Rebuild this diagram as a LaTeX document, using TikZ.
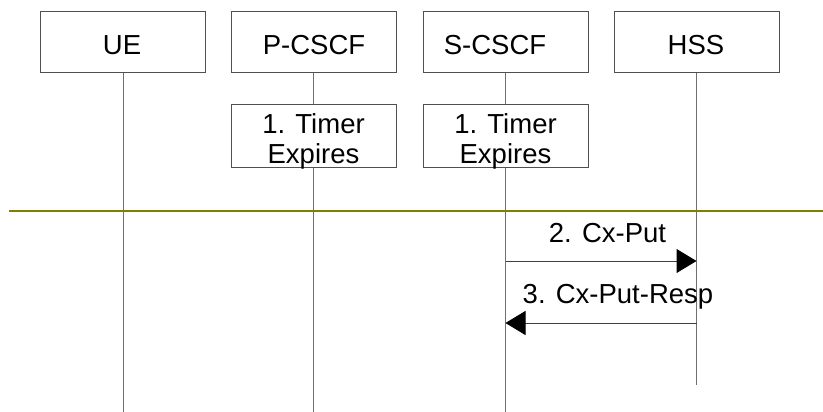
\documentclass[tikz,border=0pt]{standalone}
\usepackage{fontspec}
\setmainfont{Liberation Sans}
\usetikzlibrary{arrows.meta}
\definecolor{boxc}{HTML}{505050}
\definecolor{lifec}{HTML}{707070}
\definecolor{sepc}{HTML}{808000}
\begin{document}
\begin{tikzpicture}[x=1pt,y=-1pt,
  box/.style={draw=boxc, line width=1pt, fill=white, minimum width=165pt, minimum height=61pt, inner sep=0pt},
  tbox/.style={box, minimum height=62pt},
  txt/.style={font=\fontsize{27.5}{30}\selectfont, inner sep=0pt, align=center},
  life/.style={draw=lifec, line width=1pt},
  msg/.style={draw=black!75, line width=1pt, -{Triangle[length=20pt,width=24pt,color=black,fill=black]}},
  sepline/.style={draw=sepc, line width=2pt}]
\useasboundingbox (0,0) rectangle (823,412);
% lifeline ends
\coordinate (ueE) at (123,412);
\coordinate (pcE) at (313.5,412);
\coordinate (scE) at (505.5,412);
\coordinate (hsE) at (696.5,385);
% header boxes
\node[box] (ue) at (123,42.5) {};
\node[box] (pc) at (313.5,42.5) {};
\node[box] (sc) at (505.5,42.5) {};
\node[box] (hs) at (696.5,42.5) {};
% lifelines
\draw[life] (ue.south) -- (ueE);
\draw[life] (pc.south) -- (pcE);
\draw[life] (sc.south) -- (scE);
\draw[life] (hs.south) -- (hsE);
% header texts
\node[txt, anchor=base] (ueT) at (122,55) {UE};
\node[txt, anchor=base] (pcT) at (314,55) {P-CSCF};
\node[txt, anchor=base] (scT) at (495,55) {S-CSCF};
\node[txt, anchor=base] (hsT) at (696,55) {HSS};
% timer boxes
\node[tbox] (pt) at (313.5,136) {};
\node[tbox] (st) at (505.5,136) {};
\node[txt] (ptT) at ([yshift=-5pt]pt.center) {1. Timer\\Expires};
\node[txt] (stT) at ([yshift=-5pt]st.center) {1. Timer\\Expires};
% separator
\coordinate (sepL) at (9,211);
\coordinate (sepR) at (823,211);
\draw[sepline] (sepL) -- (sepR);
% messages
\coordinate (s2) at (505.5,261);
\coordinate (h2) at (696.5,261);
\coordinate (h3) at (696.5,323);
\coordinate (s3) at (505.5,323);
\draw[msg] (s2) -- (h2);
\draw[msg] (h3) -- (s3);
\node[txt, anchor=base] (m2) at (607.5,242) {2. Cx-Put};
\node[txt, anchor=base] (m3) at (618,303) {3. Cx-Put-Resp};
\end{tikzpicture}
\end{document}
